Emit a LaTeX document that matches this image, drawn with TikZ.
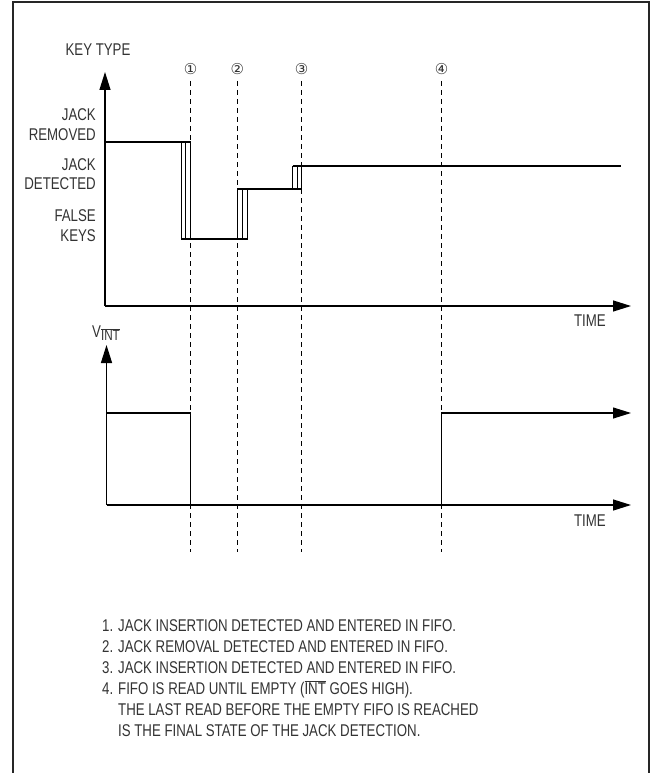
\documentclass[tikz,border=0pt]{standalone}
\usepackage{fontspec}
\setmainfont{Liberation Sans}[FakeStretch=0.78]
\newfontfamily\symfont{DejaVu Sans}
\usetikzlibrary{arrows.meta}
\tikzset{
  axis/.style={line width=1.3pt,-{Triangle[length=18pt,width=11pt]}},
  sig/.style={line width=1.1pt},
  sigarrow/.style={line width=1.1pt,-{Triangle[length=18pt,width=11pt]}},
  boxline/.style={line width=0.9pt},
  marker/.style={line width=1pt,dash pattern=on 5pt off 4pt},
  lbl/.style={font=\fontsize{17}{19.5}\selectfont,inner sep=0pt,text=black!80},
  num/.style={font=\symfont\fontsize{15}{17}\selectfont,inner sep=0pt,text=black!80},
}
\begin{document}
\begin{tikzpicture}[x=1pt,y=-1pt]
\useasboundingbox (0,0) rectangle (651,773);
% frame
\draw[line width=2pt,black!85] (12.5,773) -- (12.5,2.5) -- (649,2.5) -- (649,773);

% ---------- top chart ----------
\coordinate (o1) at (105,306);
\coordinate (y1) at (105,72);
\coordinate (x1) at (631,306);
\draw[axis] (o1) -- (y1);
\draw[axis] (o1) -- (x1);
\node[lbl] (keytype) at (98,50) {KEY TYPE};
\node[lbl,anchor=east] (time1) at (606,321) {TIME};
\node[lbl,anchor=east,align=right] (jr) at (96,124.5) {JACK\\REMOVED};
\node[lbl,anchor=east,align=right] (jd) at (96,174) {JACK\\DETECTED};
\node[lbl,anchor=east,align=right] (fk) at (96,225.5) {FALSE\\KEYS};

% waveform
\draw[sig] (105,142) -- (190.5,142);
\draw[boxline] (181,142) rectangle (190.5,239);
\draw[boxline] (185.7,142) -- (185.7,239);
\draw[sig] (181,239) -- (247,239);
\draw[boxline] (237.3,189) rectangle (247,239);
\draw[boxline] (242.1,189) -- (242.1,239);
\draw[sig] (237.3,189) -- (301.5,189);
\draw[boxline] (292.5,166) rectangle (301.5,189);
\draw[boxline] (297,166) -- (297,189);
\draw[sig] (292.5,166) -- (621,166);

% ---------- bottom chart ----------
\coordinate (o2) at (106.5,505);
\coordinate (y2) at (106.5,345);
\coordinate (x2) at (631,505);
\draw[axis] (o2) -- (y2);
\draw[axis] (o2) -- (x2);
\node[lbl] (vint) at (106,333) {V\raisebox{-0.35ex}{$\overline{\mbox{\fontsize{15}{17}\selectfont INT}}$}};
\node[lbl,anchor=east] (time2) at (606,521) {TIME};
\draw[sig] (106.5,413) -- (190.5,413) -- (190.5,505);
\draw[sigarrow] (441.5,505) -- (441.5,413) -- (631,413);

% ---------- event markers ----------
\foreach \xx/\nn/\lab in {190.5/m1/①,237.3/m2/②,301.5/m3/③,441.5/m4/④}{
  \node[num] (\nn) at (\xx,69) {\lab};
  \draw[marker] (\xx,81) -- (\xx,552);
}

% ---------- notes ----------
\node[lbl,anchor=north west,align=left,font=\fontsize{17}{21}\selectfont] (notes) at (102,619) {%
1. JACK INSERTION DETECTED AND ENTERED IN FIFO.\\
2. JACK REMOVAL DETECTED AND ENTERED IN FIFO.\\
3. JACK INSERTION DETECTED AND ENTERED IN FIFO.\\
4. FIFO IS READ UNTIL EMPTY ($\overline{\mbox{INT}}$ GOES HIGH).\\
\phantom{4. }THE LAST READ BEFORE THE EMPTY FIFO IS REACHED\\
\phantom{4. }IS THE FINAL STATE OF THE JACK DETECTION.};
\end{tikzpicture}
\end{document}
